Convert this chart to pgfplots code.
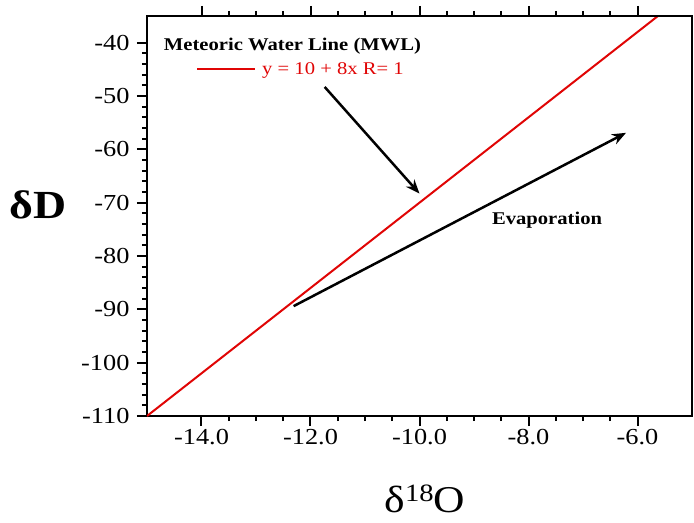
\documentclass[border=0pt]{standalone}
\usepackage{pgfplots}
\pgfplotsset{compat=1.18}
\usepackage{fontspec}
\setmainfont{Liberation Serif}[FakeStretch=1.15]
\usetikzlibrary{arrows.meta}
\definecolor{mwlred}{rgb}{0.88,0.02,0.02}
\begin{document}
\begin{tikzpicture}
\begin{axis}[
  scale only axis, width=545bp, height=400bp,
  xmin=-15, xmax=-5, ymin=-110, ymax=-35,
  axis line style={line width=2.5bp},
  xtick={-14,-12,-10,-8,-6},
  xticklabels={-14.0,-12.0,-10.0,-8.0,-6.0},
  minor x tick num=3,
  ytick={-110,-100,-90,-80,-70,-60,-50,-40},
  yticklabels={-110,-100,-90,-80,-70,-60,-50,-40},
  minor y tick num=4,
  tick align=outside,
  xtick pos=bottom, ytick pos=left,
  major tick length=10bp, minor tick length=5bp,
  every tick/.style={black, line width=2bp},
  tick label style={font=\fontsize{23}{25}\selectfont},
  yticklabel style={xshift=-4bp},
  xlabel={δ{\fontsize{25}{25}\selectfont\raisebox{0.45em}{18}}O},
  xlabel style={font=\fontsize{38}{40}\selectfont, at={(axis description cs:0.51,-0.2425)}, anchor=base},
  ylabel={\bfseries δD},
  ylabel style={font=\fontsize{40}{42}\selectfont, rotate=-90, at={(axis description cs:-0.2,0.5275)}, anchor=center},
  legend style={at={(axis cs:-14.1,-44.9)}, anchor=west, draw=none, fill=none, inner sep=0pt,
    font=\fontsize{18}{20}\selectfont, text=mwlred},
  legend image code/.code={\draw[#1] (0bp,0bp) -- (58bp,0bp);},
  /tikz/every odd column/.append style={column sep=4bp},
  clip=true,
]
\addplot[mwlred, line width=2bp] coordinates {(-15,-110) (-5,-30)};
\addlegendentry{y = 10 + 8x R= 1}
\addplot[black, line width=2.5bp, -{Stealth[length=14bp,width=11bp]}, forget plot] coordinates {(-11.74,-48.3) (-10.0,-68.3)};
\addplot[black, line width=2.5bp, -{Stealth[length=14bp,width=11bp]}, forget plot] coordinates {(-12.31,-89.4) (-6.21,-56.9)};
\node[font=\bfseries\fontsize{18}{20}\selectfont] at (axis cs:-12.33,-40.6) {Meteoric Water Line (MWL)};
\node[font=\bfseries\fontsize{18}{20}\selectfont] at (axis cs:-7.66,-73.3) {Evaporation};
\end{axis}
\begin{axis}[
  scale only axis, width=545bp, height=400bp,
  xmin=-15, xmax=-5, ymin=-110, ymax=-35,
  axis x line*=top, axis y line=none,
  axis line style={line width=2.5bp, -},
  xtick={-14,-12,-10,-8,-6},
  xticklabels={{},{},{},{},{}},
  minor x tick num=3,
  tick align=outside,
  major tick length=10bp, minor tick length=5bp,
  every tick/.style={black, line width=2bp},
]
\end{axis}
\pgfresetboundingbox
\path[use as bounding box] (-147bp,-107bp) rectangle (547bp,416bp);
\end{tikzpicture}
\end{document}
